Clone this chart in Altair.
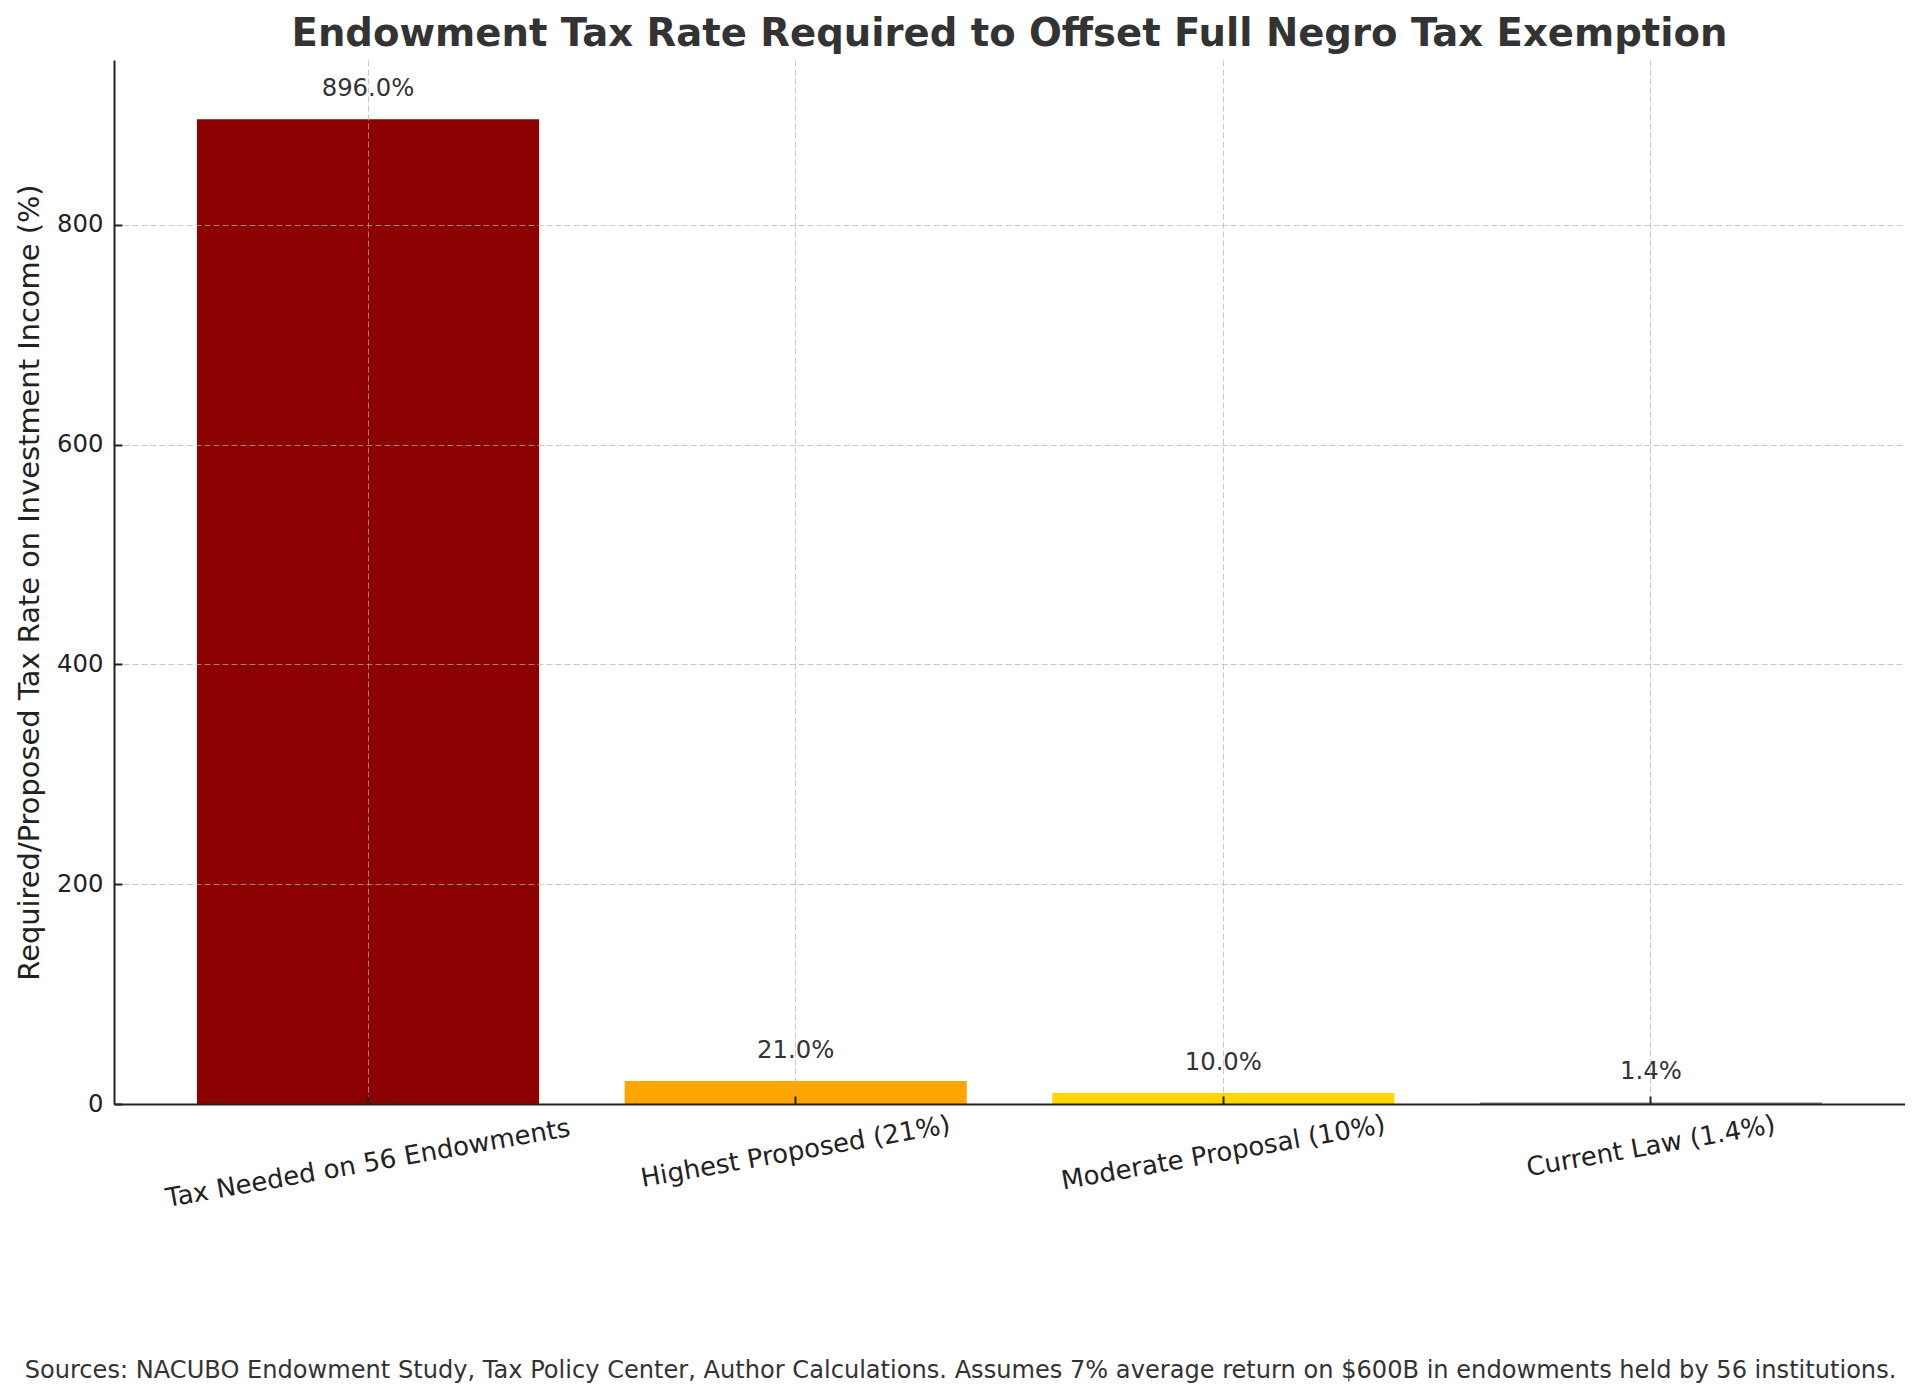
import altair as alt
import pandas as pd

categories = [
    "Tax Needed on 56 Endowments",
    "Highest Proposed (21%)",
    "Moderate Proposal (10%)",
    "Current Law (1.4%)",
]
values = [896.0, 21.0, 10.0, 1.4]
colors = ["#8B0000", "#FFA500", "#FFD700", "#808080"]
y_ticks = [0, 200, 400, 600, 800]

title_text = "Endowment Tax Rate Required to Offset Full Negro Tax Exemption"
y_title = "Required/Proposed Tax Rate on Investment Income (%)"
footnote = ("Sources: NACUBO Endowment Study, Tax Policy Center, Author Calculations. "
            "Assumes 7% average return on $600B in endowments held by 56 institutions.")

df = pd.DataFrame({"category": categories, "value": values})

FONT = "DejaVu Sans"
grid_kw = dict(grid=True, gridDash=[6, 3], gridColor="#b0b0b0", gridOpacity=0.7, gridWidth=1)
tick_kw = dict(ticks=True, tickSize={"expr": "-8"}, tickColor="#222222", tickWidth=2)

label_pad = {
    "condition": [
        {"test": f"datum.value === '{categories[0]}'", "value": 67},
        {"test": f"datum.value === '{categories[1]}'", "value": 55.5},
        {"test": f"datum.value === '{categories[2]}'", "value": 56.5},
    ],
    "value": 50,
}

x_enc = alt.X(
    "category:N",
    sort=categories,
    scale=alt.Scale(paddingInner=0.2, paddingOuter=0.194),
    axis=alt.Axis(
        title=footnote,
        titleX=846,
        titleY=273,
        titleAlign="center",
        titleBaseline="alphabetic",
        titleFontSize=24.1,
        titleFontWeight="normal",
        titleColor="#333333",
        titleLimit=3000,
        labelAngle=-10,
        labelAlign="center",
        labelBaseline="middle",
        labelFontSize=26,
        labelColor="#222222",
        labelPadding=label_pad,
        labelLimit=2000,
        labelOverlap=False,
        domainColor="#222222",
        domainWidth=2,
        bandPosition=0.5,
        zindex=1,
        **tick_kw,
        **grid_kw,
    ),
)

y_enc = alt.Y(
    "value:Q",
    scale=alt.Scale(domain=[0, 950], nice=False, zero=True),
    axis=alt.Axis(
        values=y_ticks,
        format="d",
        title=y_title,
        titleX=-76,
        titleBaseline="alphabetic",
        titleFontSize=28.9,
        titleFontWeight="normal",
        titleColor="#222222",
        titleLimit=3000,
        labelFontSize=24.3,
        labelColor="#222222",
        labelPadding=19,
        domainColor="#222222",
        domainWidth=2,
        zindex=1,
        **tick_kw,
        **grid_kw,
    ),
)

base = alt.Chart(df).transform_calculate(
    label="format(datum.value, '.1f') + '%'"
)

bars = base.mark_bar().encode(
    x=x_enc,
    y=y_enc,
    color=alt.Color("category:N", scale=alt.Scale(domain=categories, range=colors), legend=None),
)

texts = base.mark_text(
    baseline="alphabetic", align="center", dy=-23, fontSize=24.3, color="#333333"
).encode(
    x=alt.X("category:N", sort=categories),
    y=alt.Y("value:Q"),
    text="label:N",
)

chart = (
    alt.layer(bars, texts)
    .properties(
        width=1791,
        height=1044,
        autosize=alt.AutoSizeParams(type="none"),
        padding={"left": 106, "top": 52, "right": 0, "bottom": 280},
        title=alt.TitleParams(
            text=title_text,
            fontSize=38.6,
            fontWeight="bold",
            color="#333333",
            anchor="middle",
            offset=5,
            font=FONT,
        ),
    )
    .configure(font=FONT)
    .configure_view(stroke=None)
)

chart.save("out.html", embed_options={"renderer": "svg", "actions": False})
